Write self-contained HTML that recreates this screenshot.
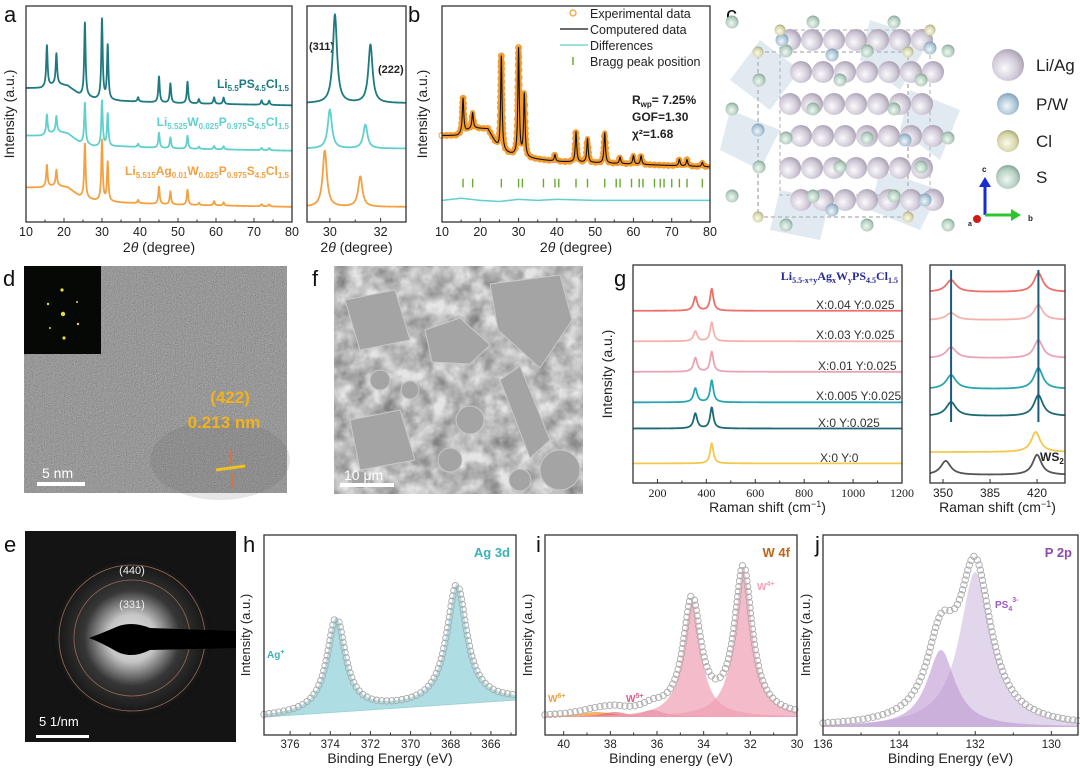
<!DOCTYPE html>
<html><head><meta charset="utf-8">
<style>
html,body{margin:0;padding:0;background:#fff;}
svg{display:block;font-family:"Liberation Sans",Arial,sans-serif;}
</style></head>
<body>
<svg id="fig" width="1080" height="770" viewBox="0 0 1080 770" xmlns="http://www.w3.org/2000/svg">
<defs>
<filter id="tem" x="0" y="0" width="100%" height="100%"><feTurbulence type="fractalNoise" baseFrequency="0.9" numOctaves="2" seed="3"/><feColorMatrix type="matrix" values="0 0 0 0 0.45  0 0 0 0 0.45  0 0 0 0 0.45  0.7 0.7 0.7 0 -0.55"/></filter>
<filter id="sem" x="0" y="0" width="100%" height="100%"><feTurbulence type="fractalNoise" baseFrequency="0.06" numOctaves="3" seed="7"/><feColorMatrix type="matrix" values="0 0 0 0 0.78  0 0 0 0 0.78  0 0 0 0 0.78  0.9 0.9 0.9 0 -0.75"/></filter>
<radialGradient id="gLi" cx="0.4" cy="0.6" r="0.7"><stop offset="0" stop-color="#fbfafd"/><stop offset="0.6" stop-color="#cfc7d6"/><stop offset="1" stop-color="#9d94a6"/></radialGradient>
<radialGradient id="gP" cx="0.45" cy="0.6" r="0.7"><stop offset="0" stop-color="#f2f7fb"/><stop offset="0.6" stop-color="#a9c3d6"/><stop offset="1" stop-color="#6f8ea4"/></radialGradient>
<radialGradient id="gCl" cx="0.45" cy="0.6" r="0.7"><stop offset="0" stop-color="#fbfbf0"/><stop offset="0.6" stop-color="#d6d6a8"/><stop offset="1" stop-color="#8f906a"/></radialGradient>
<radialGradient id="gS" cx="0.45" cy="0.6" r="0.7"><stop offset="0" stop-color="#f1f8f3"/><stop offset="0.6" stop-color="#b4cfc1"/><stop offset="1" stop-color="#6f8d7e"/></radialGradient>
<radialGradient id="gSaed" cx="0.5" cy="0.5" r="0.5"><stop offset="0" stop-color="#ffffff"/><stop offset="0.3" stop-color="#d8d8d8"/><stop offset="0.6" stop-color="#3a3a3a"/><stop offset="1" stop-color="#111"/></radialGradient>
</defs>

<g font-size="22" fill="#111">
<text x="4" y="22">a</text>
<text x="408" y="22">b</text>
<text x="726" y="22">c</text>
<text x="3" y="286">d</text>
<text x="312" y="286">f</text>
<text x="614" y="286">g</text>
<text x="4" y="552">e</text>
<text x="243" y="552">h</text>
<text x="536" y="552">i</text>
<text x="815" y="552">j</text>
</g>

<g>
<rect x="24" y="266" width="263" height="227" fill="#7c7c7c"/>
<rect x="24" y="266" width="263" height="227" filter="url(#tem)"/>
<ellipse cx="220" cy="460" rx="70" ry="40" fill="#555" opacity="0.15"/>
<rect x="24" y="266" width="77" height="88" fill="#050805"/>
<g fill="#e8d84a">
<circle cx="62" cy="290" r="1.6"/><circle cx="64" cy="338" r="1.6"/><circle cx="63" cy="314" r="2.2"/><circle cx="48" cy="304" r="1.2"/><circle cx="78" cy="324" r="1.2"/><circle cx="50" cy="328" r="1"/><circle cx="77" cy="302" r="1"/>
</g>
<text x="230" y="403" font-size="17" font-weight="bold" fill="#f2b21c" text-anchor="middle">(422)</text>
<text x="224" y="428" font-size="17" font-weight="bold" fill="#f2b21c" text-anchor="middle">0.213 nm</text>
<line x1="216" y1="470" x2="245" y2="466" stroke="#f2c21c" stroke-width="3"/>
<line x1="231" y1="450" x2="231" y2="464" stroke="#f06a2a" stroke-width="1.5"/>
<line x1="232" y1="488" x2="232" y2="473" stroke="#f06a2a" stroke-width="1.5"/>
<text x="42" y="478" font-size="14" fill="#fff">5 nm</text>
<rect x="37" y="482" width="48" height="4" fill="#fff"/>
</g>

<g>
<rect x="334" y="266" width="249" height="228" fill="#7e7e7e"/>
<rect x="334" y="266" width="249" height="228" filter="url(#sem)"/>
<g fill="#a4a4a4" stroke="#c8c8c8" stroke-width="1">
<polygon points="490,284 560,275 572,320 540,368 498,330"/>
<polygon points="425,330 460,318 490,345 470,364 432,362"/>
<polygon points="345,300 395,290 410,340 360,350"/>
<polygon points="500,380 520,366 550,440 530,458"/>
<polygon points="350,420 400,410 415,460 360,470"/>
<circle cx="560" cy="470" r="20"/><circle cx="450" cy="460" r="12"/><circle cx="380" cy="380" r="10"/>
<circle cx="470" cy="420" r="14"/><circle cx="410" cy="390" r="9"/><circle cx="360" cy="480" r="9"/><circle cx="520" cy="480" r="11"/>
</g>
<text x="344" y="480" font-size="14" fill="#fff">10 μm</text>
<rect x="340" y="483" width="54" height="4" fill="#fff"/>
</g>

<g>
<rect x="25" y="531" width="211" height="211" fill="#141414"/>
<circle cx="132" cy="638" r="80" fill="url(#gSaed)" opacity="0.9"/>
<circle cx="132" cy="638" r="58" fill="none" stroke="#9a6a5a" stroke-width="0.8"/>
<circle cx="132" cy="638" r="73" fill="none" stroke="#9a6a5a" stroke-width="0.8"/>
<path d="M114,628 Q130,620 150,628 L236,631 L236,648 L150,650 Q130,660 114,650 Q100,642 89,638 Q100,634 114,628 Z" fill="#000"/>
<text x="132" y="574" font-size="11" fill="#eee" text-anchor="middle">(440)</text>
<text x="132" y="608" font-size="11" fill="#eee" text-anchor="middle">(331)</text>
<text x="39" y="726" font-size="13" fill="#fff">5 1/nm</text>
<rect x="36" y="735" width="53" height="3" fill="#fff"/>
</g>

<g id="crystal">
<rect x="758" y="52" width="150" height="165" fill="none" stroke="#777" stroke-dasharray="4,3" stroke-width="0.8"/>
<rect x="780" y="30" width="150" height="165" fill="none" stroke="#999" stroke-dasharray="4,3" stroke-width="0.8"/>
</g>
<g font-size="17" fill="#222">
<circle cx="1008" cy="65" r="16" fill="url(#gLi)"/>
<text x="1036" y="71">Li/Ag</text>
<circle cx="1008" cy="104" r="11" fill="url(#gP)"/>
<text x="1036" y="110">P/W</text>
<circle cx="1008" cy="141" r="11" fill="url(#gCl)"/>
<text x="1036" y="147">Cl</text>
<circle cx="1008" cy="177" r="12" fill="url(#gS)"/>
<text x="1036" y="183">S</text>
<line x1="985" y1="215" x2="985" y2="185" stroke="#1a2bd0" stroke-width="3"/>
<polygon points="979,187 991,187 985,177" fill="#1a2bd0"/>
<line x1="985" y1="215" x2="1013" y2="215" stroke="#2ec42e" stroke-width="3"/>
<polygon points="1011,209 1011,221 1021,215" fill="#2ec42e"/>
<circle cx="977" cy="219" r="4" fill="#d01a1a"/>
<text x="982" y="172" font-size="8" font-weight="bold">c</text>
<text x="1028" y="221" font-size="8" font-weight="bold">b</text>
<text x="968" y="226" font-size="7" font-weight="bold">a</text>
</g>

<g font-weight="bold" font-size="12">
<text x="289" y="88" text-anchor="end" fill="#1d7a80">Li<tspan font-size="8" dy="3">5.5</tspan><tspan dy="-3">PS</tspan><tspan font-size="8" dy="3">4.5</tspan><tspan dy="-3">Cl</tspan><tspan font-size="8" dy="3">1.5</tspan></text>
<text x="289" y="126" text-anchor="end" fill="#5fd0cc">Li<tspan font-size="8" dy="3">5.525</tspan><tspan dy="-3">W</tspan><tspan font-size="8" dy="3">0.025</tspan><tspan dy="-3">P</tspan><tspan font-size="8" dy="3">0.975</tspan><tspan dy="-3">S</tspan><tspan font-size="8" dy="3">4.5</tspan><tspan dy="-3">Cl</tspan><tspan font-size="8" dy="3">1.5</tspan></text>
<text x="289" y="175" text-anchor="end" fill="#f4a040">Li<tspan font-size="8" dy="3">5.515</tspan><tspan dy="-3">Ag</tspan><tspan font-size="8" dy="3">0.01</tspan><tspan dy="-3">W</tspan><tspan font-size="8" dy="3">0.025</tspan><tspan dy="-3">P</tspan><tspan font-size="8" dy="3">0.975</tspan><tspan dy="-3">S</tspan><tspan font-size="8" dy="3">4.5</tspan><tspan dy="-3">Cl</tspan><tspan font-size="8" dy="3">1.5</tspan></text>
<text x="309" y="50" fill="#222" font-size="11">(311)</text>
<text x="378" y="73" fill="#222" font-size="11">(222)</text>
</g>
<g font-size="12.5" fill="#222">
<circle cx="573" cy="13" r="3" fill="none" stroke="#f39a2e" stroke-width="1.2"/>
<text x="590" y="18">Experimental data</text>
<line x1="560" y1="29" x2="588" y2="29" stroke="#111" stroke-width="1.2"/>
<text x="590" y="34">Computered data</text>
<line x1="560" y1="45" x2="588" y2="45" stroke="#5fd0cc" stroke-width="1.2"/>
<text x="590" y="50">Differences</text>
<line x1="573" y1="57" x2="573" y2="65" stroke="#6aa832" stroke-width="1.5"/>
<text x="590" y="66">Bragg peak position</text>
<g font-weight="bold" font-size="12">
<text x="632" y="104">R<tspan font-size="8" dy="3">wp</tspan><tspan dy="-3">= 7.25%</tspan></text>
<text x="632" y="121">GOF=1.30</text>
<text x="632" y="138">χ²=1.68</text>
</g>
</g>
<text x="898" y="280" text-anchor="end" font-family="Liberation Serif,serif" font-weight="bold" font-size="12" fill="#2a2a9a">Li<tspan font-size="8" dy="3">5.5-x+y</tspan><tspan dy="-3">Ag</tspan><tspan font-size="8" dy="3">x</tspan><tspan dy="-3">W</tspan><tspan font-size="8" dy="3">y</tspan><tspan dy="-3">PS</tspan><tspan font-size="8" dy="3">4.5</tspan><tspan dy="-3">Cl</tspan><tspan font-size="8" dy="3">1.5</tspan></text>
<g font-size="12" fill="#333">
<text x="816" y="309">X:0.04  Y:0.025</text>
<text x="816" y="339">X:0.03  Y:0.025</text>
<text x="818" y="370">X:0.01  Y:0.025</text>
<text x="816" y="400">X:0.005 Y:0.025</text>
<text x="818" y="427">X:0      Y:0.025</text>
<text x="820" y="462">X:0      Y:0</text>
</g>
<text x="1040" y="461" font-size="12" font-weight="bold" fill="#222">WS<tspan font-size="8" dy="3">2</tspan></text>
<g font-weight="bold" font-size="13">
<text x="510" y="557" text-anchor="end" fill="#3ab2b8">Ag 3d</text>
<text x="790" y="557" text-anchor="end" fill="#c0661a">W 4f</text>
<text x="1072" y="557" text-anchor="end" fill="#8a4ab0">P 2p</text>
</g>
<g font-size="10" font-weight="bold">
<text x="267" y="658" fill="#3ab2b8">Ag<tspan font-size="7" dy="-4">+</tspan></text>
<text x="757" y="590" fill="#f4a0b8">W<tspan font-size="7" dy="-4">4+</tspan></text>
<text x="548" y="702" fill="#f4a040">W<tspan font-size="7" dy="-4">6+</tspan></text>
<text x="626" y="702" fill="#e05a8a">W<tspan font-size="7" dy="-4">5+</tspan></text>
<text x="995" y="608" fill="#9a5ac8">PS<tspan font-size="7" dy="3">4</tspan><tspan font-size="7" dy="-9">3-</tspan></text>
</g>

<g id="charts"></g>
</svg>

<script>
// ---------- DATA ----------
const xrdPeaks = [15.5, 18, 25.5, 30, 31.5, 39.5, 45, 48, 52.5, 55.5, 59.5, 62, 72, 74];
const xrdHeightsPristine = [19, 14, 34, 37, 25, 2, 12, 9, 10, 2, 3, 3, 2, 2];
const xrdHeightsW = [9, 7, 19, 21, 15, 1.5, 7, 5, 6, 1, 1.5, 1.5, 1, 1];
const xrdHeightsAgW = [10, 7, 25, 28, 18, 1.5, 8, 6, 7, 1, 2, 1.5, 1, 1];
const xrdBgX = [10, 14, 18, 21, 24, 28, 35, 50, 80];
const xrdBgPristine = [62, 62, 64, 63, 59, 57, 56, 55, 54];
const xrdBgW = [40, 40, 42, 41, 37, 35, 35, 34, 33];
const xrdBgAgW = [16, 16, 17, 16, 12, 10, 9, 8, 7];
const zoomPeaksPristine = [30.2, 31.6];
const zoomPeaksW = [30.0, 31.4];
const zoomPeaksAgW = [29.8, 31.2];
const zoomHeightsPristine = [41, 27];
const zoomHeightsW = [18, 11];
const zoomHeightsAgW = [26, 14];
const zoomBase = [55, 34, 7];
const rietPeaks = [15.5, 18, 25.5, 30, 31.5, 39.5, 45, 48, 52.5, 56.5, 60, 62, 72, 74, 78];
const rietHeights = [16, 7, 44, 50, 29, 3, 14, 11, 14, 3, 4, 4, 3, 3, 2];
const rietBgX = [10, 14, 18, 22, 25, 30, 40, 80];
const rietBgV = [40, 40, 43.5, 43, 33, 30, 28, 25.5];
const braggPos = [15.5, 18, 25.5, 30, 31, 36.5, 39.5, 40.5, 45, 48, 52.5, 55.5, 56.5, 59.5, 61.5, 62.5, 65.5, 67, 68, 70, 72, 74, 78];
const diffX = [10, 15, 20, 25, 30, 35, 40, 50, 60, 70, 80];
const diffV = [10, 11, 10, 9.5, 10.5, 10, 10.5, 10, 10, 10, 10];
const ramanPeaks = [355, 422];
const ramanBase = [79, 65, 51, 37, 25, 9];
const ramanH350 = [6.4, 4.6, 6.4, 6.4, 6.9, 0];
const ramanH420 = [10, 8.7, 9.2, 10, 9.6, 9.2];
const ramanZoomBase = [87.6, 74.8, 57.3, 43.1, 30.7, 14.2, 3.7];
const ramanZoomPos1 = [356, 356, 356, 356, 356, 356, 352];
const ramanZoomPos2 = [421, 421, 421, 421, 421, 419, 420];
const ramanZoomH1 = [5.5, 3.2, 5, 6.4, 6.4, 0, 6.4];
const ramanZoomH2 = [8.7, 6.9, 8.3, 9.6, 9.6, 9.2, 9.2];
const ramanColors = ['#ec6f6a', '#f5b2ad', '#eba3b6', '#2aa6b0', '#1d6a72', '#f4c84e', '#555555'];
const agPeaks = [373.7, 367.7];
const agHeights = [47, 59.5];
const agBg = [9, 17.5];
const wPeaks = [38.6, 37.8, 36.2, 34.5, 32.3];
const wHeights = [2.5, 2.5, 3.5, 57.5, 73.5];
const wBg = 9;
const pPeaks = [132.9, 132.0];
const pHeights = [38.5, 77.5];
const pBg = 4;

// ---------- RENDER ----------
const NS = 'http://www.w3.org/2000/svg';
const root = document.getElementById('charts');
function mk(tag, parent){ const e=document.createElementNS(NS,tag); (parent||root).appendChild(e); return e; }
function interp(xs, vs, x){ if(x<=xs[0]) return vs[0]; for(let i=1;i<xs.length;i++){ if(x<=xs[i]){ const t=(x-xs[i-1])/(xs[i]-xs[i-1]); return vs[i-1]+t*(vs[i]-vs[i-1]); } } return vs[vs.length-1]; }
function lor(x, p, h, w){ return h/(1+((x-p)/w)*((x-p)/w)); }
function makeScale(box){ return { x: v => box.x0 + (v-box.d0)/(box.d1-box.d0)*(box.x1-box.x0), y: v => box.y1 - v*(box.y1-box.y0)/100 }; }
function samples(box, n){ const a=[]; for(let i=0;i<=n;i++) a.push(box.d0+(box.d1-box.d0)*i/n); return a; }
function pathFrom(box, f, n){ const s=makeScale(box); return samples(box,n).map((x,i)=>(i?'L':'M')+s.x(x).toFixed(2)+','+s.y(f(x)).toFixed(2)).join(''); }
function drawLine(box, f, color, width, name, n){
  const p=mk('path'); p.setAttribute('d', pathFrom(box,f,n||800)); p.setAttribute('fill','none'); p.setAttribute('stroke',color); p.setAttribute('stroke-width',width); p.setAttribute('stroke-linejoin','round');
  
  
  return p;
}
function drawFill(box, f, base, color, name){
  const s=makeScale(box); const xs=samples(box,500);
  let d=xs.map((x,i)=>(i?'L':'M')+s.x(x).toFixed(2)+','+s.y(f(x)).toFixed(2)).join('');
  for(let i=xs.length-1;i>=0;i--) d+='L'+s.x(xs[i]).toFixed(2)+','+s.y(base(xs[i])).toFixed(2);
  const p=mk('path'); p.setAttribute('d', d+'Z'); p.setAttribute('fill',color); p.setAttribute('stroke','none');
  
  
}
function drawMarkers(box, f, color, r, gap, name){
  const s=makeScale(box); const xs=samples(box,3000); let lx=-99, ly=-99;
  const g=mk('g'); 
  
  xs.forEach(x=>{ const px=s.x(x), py=s.y(f(x)); if(Math.hypot(px-lx,py-ly)>=gap){ const c=mk('circle',g); c.setAttribute('cx',px.toFixed(1)); c.setAttribute('cy',py.toFixed(1)); c.setAttribute('r',r); c.setAttribute('fill','none'); c.setAttribute('stroke',color); c.setAttribute('stroke-width','0.9'); lx=px; ly=py; } });
}
function drawFrame(box, name, ticks, labels, minor, opts){
  const s=makeScale(box);
  const r=mk('rect'); r.setAttribute('x',box.x0); r.setAttribute('y',box.y0); r.setAttribute('width',box.x1-box.x0); r.setAttribute('height',box.y1-box.y0); r.setAttribute('fill','none'); r.setAttribute('stroke','#333'); r.setAttribute('stroke-width','1.3');
  
  
  ticks.forEach((t,i)=>{
    const l=mk('line'); l.setAttribute('x1',s.x(t)); l.setAttribute('x2',s.x(t)); l.setAttribute('y1',box.y1); l.setAttribute('y2',box.y1-4); l.setAttribute('stroke','#333');
    
    
    const tx=mk('text'); tx.setAttribute('x',s.x(t)); tx.setAttribute('y',box.y1+opts.ly); tx.setAttribute('text-anchor','middle'); tx.setAttribute('font-size',opts.fs||12); tx.setAttribute('fill','#222');
    if(opts.serif) tx.setAttribute('font-family','Liberation Serif, serif');
    tx.textContent=labels[i];
    
    
  });
  (minor||[]).forEach(t=>{ const l=mk('line'); l.setAttribute('x1',s.x(t)); l.setAttribute('x2',s.x(t)); l.setAttribute('y1',box.y1); l.setAttribute('y2',box.y1-2.5); l.setAttribute('stroke','#333');
    
     });
  if(opts.title){ const tt=mk('text'); tt.setAttribute('x',(box.x0+box.x1)/2); tt.setAttribute('y',box.y1+opts.ty); tt.setAttribute('text-anchor','middle'); tt.setAttribute('font-size',opts.tfs||14); tt.setAttribute('fill','#222'); tt.innerHTML=opts.title;
    
     }
  if(opts.ytitle){ const yt=mk('text'); const cx=opts.yx, cy=(box.y0+box.y1)/2; yt.setAttribute('x',cx); yt.setAttribute('y',cy); yt.setAttribute('text-anchor','middle'); yt.setAttribute('font-size',opts.yfs||14); yt.setAttribute('fill','#222'); yt.setAttribute('transform','rotate(-90 '+cx+' '+cy+')'); yt.textContent='Intensity (a.u.)';
    
     }
}
const thetaTitle = '2<tspan font-style="italic">θ</tspan> (degree)';

const A1={x0:26,x1:292,y0:6,y1:222,d0:10,d1:80};
const specA=(bgV,hs)=>x=>{ let v=interp(xrdBgX,bgV,x); xrdPeaks.forEach((p,i)=>v+=lor(x,p,hs[i],0.22)); return v; };
drawLine(A1, specA(xrdBgAgW,xrdHeightsAgW), '#f4a040', 1.8, 'xrd-trace-ag-w', 1400);
drawLine(A1, specA(xrdBgW,xrdHeightsW), '#5fd0cc', 1.8, 'xrd-trace-w', 1400);
drawLine(A1, specA(xrdBgPristine,xrdHeightsPristine), '#1d7a80', 1.8, 'xrd-trace-pristine', 1400);
drawFrame(A1,'xrd',[10,20,30,40,50,60,70,80],['10','20','30','40','50','60','70','80'],[15,25,35,45,55,65,75],{ly:14,ty:30,title:thetaTitle,ytitle:true,yx:14,fs:12.5});

const A2={x0:307,x1:406,y0:6,y1:222,d0:29.1,d1:33.0};
const specZ=(b,ps,hs)=>x=>{ let v=b; ps.forEach((p,i)=>v+=lor(x,p,hs[i],0.1)); return v; };
drawLine(A2, specZ(zoomBase[2],zoomPeaksAgW,zoomHeightsAgW), '#f4a040', 1.8, 'xrd-zoom-trace-ag-w');
drawLine(A2, specZ(zoomBase[1],zoomPeaksW,zoomHeightsW), '#5fd0cc', 1.8, 'xrd-zoom-trace-w');
drawLine(A2, specZ(zoomBase[0],zoomPeaksPristine,zoomHeightsPristine), '#1d7a80', 1.8, 'xrd-zoom-trace-pristine');
drawFrame(A2,'xrd-zoom',[30,32],['30','32'],[31],{ly:14,ty:30,title:thetaTitle,fs:12.5});

const B={x0:442,x1:710,y0:6,y1:222,d0:10,d1:80};
const specB=x=>{ let v=interp(rietBgX,rietBgV,x); rietPeaks.forEach((p,i)=>v+=lor(x,p,rietHeights[i],0.22)); return v; };
drawLine(B, specB, '#f39a2e', 5, 'rietveld-exp-band', 1400);
drawMarkers(B, specB, '#f39a2e', 3, 4.5, 'rietveld-exp-markers');
drawLine(B, specB, '#111', 1.1, 'rietveld-calc-line', 1400);
drawLine(B, x=>interp(diffX,diffV,x), '#5fd0cc', 1.5, 'rietveld-diff-line', 200);
{ const s=makeScale(B); braggPos.forEach(p=>{ const l=mk('line'); l.setAttribute('x1',s.x(p)); l.setAttribute('x2',s.x(p)); l.setAttribute('y1',s.y(20)); l.setAttribute('y2',s.y(16)); l.setAttribute('stroke','#6aa832'); l.setAttribute('stroke-width','1.4');
  
   }); }
drawFrame(B,'rietveld',[10,20,30,40,50,60,70,80],['10','20','30','40','50','60','70','80'],[15,25,35,45,55,65,75],{ly:14,ty:30,title:thetaTitle,ytitle:true,yx:427,fs:12.5});

const G1={x0:633,x1:902,y0:265,y1:483,d0:100,d1:1200};
ramanBase.forEach((b,i)=>{ drawLine(G1, x=>b+lor(x,ramanPeaks[0],ramanH350[i],9)+lor(x,ramanPeaks[1],ramanH420[i],8), ramanColors[i], 1.8, 'raman-trace-'+(i+1), 1100); });
drawFrame(G1,'raman',[200,400,600,800,1000,1200],['200','400','600','800','1000','1200'],[300,500,700,900,1100],{ly:14,ty:29,title:'Raman shift (cm<tspan font-size="9" dy="-5">−1</tspan><tspan dy="5">)</tspan>',ytitle:true,yx:612,serif:true,fs:12});
const G2={x0:930,x1:1065,y0:265,y1:483,d0:340.3,d1:440.8};
ramanZoomBase.forEach((b,i)=>{ drawLine(G2, x=>b+lor(x,ramanZoomPos1[i],ramanZoomH1[i],4.5)+lor(x,ramanZoomPos2[i],ramanZoomH2[i],4), ramanColors[i], 1.8, 'raman-zoom-trace-'+(i+1)); });
{ const s=makeScale(G2); [ramanZoomPos1[0], ramanZoomPos2[0]].forEach(p=>{ const l=mk('line'); l.setAttribute('x1',s.x(p)); l.setAttribute('x2',s.x(p)); l.setAttribute('y1',G2.y0+5); l.setAttribute('y2',s.y(28)); l.setAttribute('stroke','#1d5a7a'); l.setAttribute('stroke-width','2');
  
   }); }
drawFrame(G2,'raman-zoom',[350,385,420],['350','385','420'],[],{ly:14,ty:29,title:'Raman shift (cm<tspan font-size="9" dy="-5">−1</tspan><tspan dy="5">)</tspan>'});

const H={x0:264,x1:516,y0:535,y1:735,d0:377.3,d1:364.75};
const bgH=x=>agBg[0]+(x-H.d0)/(H.d1-H.d0)*(agBg[1]-agBg[0]);
const specH=x=>bgH(x)+lor(x,agPeaks[0],agHeights[0],0.55)+lor(x,agPeaks[1],agHeights[1],0.6);
drawFill(H, specH, bgH, 'rgba(120,200,208,0.6)', 'ag3d-peak-fill');
drawLine(H, bgH, '#9fd3d8', 1, 'ag3d-background');
drawMarkers(H, specH, '#aaa', 3.2, 5, 'ag3d-data-points');
drawFrame(H,'ag3d',[376,374,372,370,368,366],['376','374','372','370','368','366'],[375,373,371,369,367,365],{ly:13,ty:28,title:'Binding Energy (eV)',ytitle:true,yx:250,fs:11.5,yfs:13});

const I={x0:545,x1:797,y0:535,y1:735,d0:40.8,d1:30};
const wW=[1.0,0.7,0.6,0.45,0.45];
const wCol=['rgba(244,160,64,0.8)','rgba(220,90,110,0.6)','rgba(210,80,120,0.6)','rgba(240,160,180,0.7)','rgba(240,160,180,0.7)'];
wPeaks.forEach((p,i)=>drawFill(I, x=>wBg+lor(x,p,wHeights[i],wW[i]), x=>wBg, wCol[i], 'w4f-component-'+(i+1)));
const specI=x=>{ let v=wBg; wPeaks.forEach((p,i)=>v+=lor(x,p,wHeights[i],wW[i])); return v; };
drawMarkers(I, specI, '#aaa', 3.2, 5, 'w4f-data-points');
drawFrame(I,'w4f',[40,38,36,34,32,30],['40','38','36','34','32','30'],[39,37,35,33,31],{ly:13,ty:28,title:'Binding energy (eV)',ytitle:true,yx:532,fs:11.5,yfs:13});

const J={x0:823,x1:1078,y0:535,y1:735,d0:136,d1:129.3};
drawFill(J, x=>pBg+lor(x,pPeaks[1],pHeights[1],0.5), x=>pBg, 'rgba(200,180,220,0.55)', 'p2p-component-2');
drawFill(J, x=>pBg+lor(x,pPeaks[0],pHeights[0],0.45), x=>pBg, 'rgba(190,150,210,0.6)', 'p2p-component-1');
const specJ=x=>pBg+lor(x,pPeaks[0],pHeights[0],0.45)+lor(x,pPeaks[1],pHeights[1],0.5);
drawMarkers(J, specJ, '#aaa', 3.2, 5, 'p2p-data-points');
drawFrame(J,'p2p',[136,134,132,130],['136','134','132','130'],[135,133,131],{ly:13,ty:28,title:'Binding Energy (eV)',ytitle:true,yx:810,fs:11.5,yfs:13});

const cg=document.getElementById('crystal');
const polyPts=[[760,40,800,70,770,110,730,80],[870,20,930,40,900,90,860,60],[910,90,960,110,940,160,900,130],[730,110,780,130,760,170,720,150],[880,170,940,190,920,230,870,210],[780,190,830,200,820,240,770,230]];
polyPts.forEach(a=>{ const p=mk('polygon',cg); p.setAttribute('points',a.join(',')); p.setAttribute('fill','rgba(170,195,215,0.35)');
  
   });
for(let r=0;r<6;r++){ for(let c=0;c<7;c++){ const cx=790+c*22+(r%2)*11, cy=40+r*32;
  const s=mk('circle',cg); s.setAttribute('cx',cx); s.setAttribute('cy',cy); s.setAttribute('r',11); s.setAttribute('fill','url(#gLi)');
  
   } }
for(let r=0;r<8;r++){ for(let c=0;c<9;c++){ if((r+c)%3) continue; const cx=732+c*27, cy=22+r*29;
  const s=mk('circle',cg); s.setAttribute('cx',cx); s.setAttribute('cy',cy); s.setAttribute('r',6.5); s.setAttribute('fill','url(#gS)');
  
   } }
[[782,40],[832,55],[930,48],[758,130],[905,140],[832,210],[925,200]].forEach(a=>{ const s=mk('circle',cg); s.setAttribute('cx',a[0]); s.setAttribute('cy',a[1]); s.setAttribute('r',6.5); s.setAttribute('fill','url(#gP)');
  
   });
[[758,52],[908,52],[758,217],[908,217],[780,30],[930,30]].forEach(a=>{ const s=mk('circle',cg); s.setAttribute('cx',a[0]); s.setAttribute('cy',a[1]); s.setAttribute('r',5.5); s.setAttribute('fill','url(#gCl)');
  
   });
</script>
</body></html>
